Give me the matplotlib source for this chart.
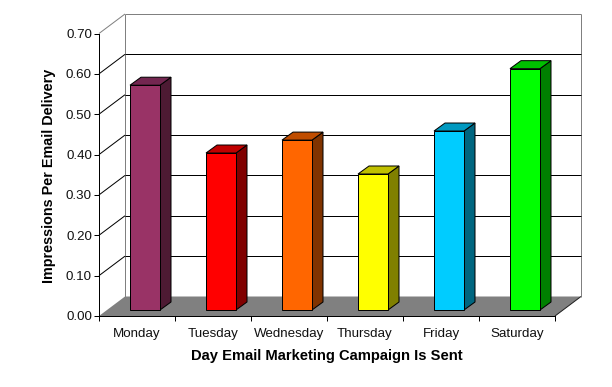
import matplotlib
matplotlib.use("Agg")
import matplotlib.pyplot as plt
from matplotlib.transforms import Affine2D, IdentityTransform
from matplotlib.patches import Polygon

days = ["Monday", "Tuesday", "Wednesday", "Thursday", "Friday", "Saturday"]
impressions = [0.557, 0.389, 0.421, 0.337, 0.4435, 0.598]
colors = ["#993366", "#FF0000", "#FF6600", "#FFFF00", "#00CCFF", "#00FF00"]
side_colors = ["#4D1A33", "#800000", "#803300", "#808000", "#006680", "#008000"]
top_colors = ["#732650", "#C00000", "#C04D00", "#C0C000", "#0099C0", "#00C000"]
y_ticks = [0.0, 0.1, 0.2, 0.3, 0.4, 0.5, 0.6, 0.7]

W, H = 612, 387
L, R, T, B = 99.0, 555.0, 33.5, 316.0
WALL_DX, WALL_DY = 26, 19.5
BAR_DX, BAR_DY = 8, 6
DEPTH_DX, DEPTH_DY = 11, 8
LW = 0.72

plt.rcParams["font.family"] = ["Liberation Sans", "DejaVu Sans"]
fig = plt.figure(figsize=(W / 100, H / 100), dpi=100, facecolor="white")
ax = fig.add_axes([L / W, (H - B) / H, (R - L) / W, (B - T) / H])
ax.set_xlim(-0.5, 5.5)
ax.set_ylim(0, 0.7)
ax.patch.set_visible(False)
for s in ("top", "right"):
    ax.spines[s].set_visible(False)
for s in ("left", "bottom"):
    ax.spines[s].set_linewidth(LW)
    ax.spines[s].set_zorder(20)

px = IdentityTransform()
wall = ax.transData + Affine2D().translate(WALL_DX, WALL_DY)
front = ax.transData + Affine2D().translate(BAR_DX, BAR_DY)
back = ax.transData + Affine2D().translate(BAR_DX + DEPTH_DX, BAR_DY + DEPTH_DY)


def poly(points, fc, ec="black", z=5, lw=LW):
    ax.add_patch(Polygon(points, closed=True, transform=px, fc=fc, ec=ec, lw=lw,
                         zorder=z, clip_on=False, joinstyle="miter"))


def seg(a, b, color="black", z=2):
    ax.plot([a[0], b[0]], [a[1], b[1]], transform=px, color=color, lw=LW,
            clip_on=False, zorder=z, solid_capstyle="butt")


x0, x1 = ax.get_xlim()
# floor
poly([ax.transData.transform((x0, 0)), ax.transData.transform((x1, 0)),
      wall.transform((x1, 0)), wall.transform((x0, 0))], "#808080", ec="none", z=3)
seg(ax.transData.transform((x1, 0)), wall.transform((x1, 0)), "#202020", 4)
# walls and gridlines
seg(wall.transform((x0, 0)), wall.transform((x0, 0.7)), "#808080")
seg(wall.transform((x1, 0)), wall.transform((x1, 0.7)), "#808080")
for v in y_ticks[1:]:
    c = "#808080" if v == y_ticks[-1] else "black"
    seg(wall.transform((x0, v)), wall.transform((x1, v)), c)
    seg(ax.transData.transform((x0, v)), wall.transform((x0, v)), c)

# bars
width = 30 / 76
for i, v in enumerate(impressions):
    l, r = i - width / 2, i + width / 2
    ax.bar(i, v, width=width, color=colors[i], edgecolor="black", linewidth=LW,
           transform=front, zorder=7, clip_on=False)
    poly([front.transform((r, 0)), back.transform((r, 0)),
          back.transform((r, v)), front.transform((r, v))], side_colors[i], z=6)
    poly([front.transform((l, v)), front.transform((r, v)),
          back.transform((r, v)), back.transform((l, v))], top_colors[i], z=6)

ax.set_yticks(y_ticks)
ax.set_yticklabels([f"{v:.2f}" for v in y_ticks], fontsize=9.6, color="#111111")
ax.set_xticks([i - 0.5 for i in range(7)])
ax.set_xticklabels([])
ax.set_xticks(range(6), minor=True)
ax.set_xticklabels(days, minor=True, fontsize=9.6, color="#111111")
ax.tick_params(axis="x", which="major", length=3.6, width=LW)
ax.tick_params(axis="x", which="minor", length=0, pad=8.5)
ax.tick_params(axis="y", length=3.6, width=LW, pad=1.5)

fig.text(326.5 / W, 1 - 356 / H, "Day Email Marketing Campaign Is Sent", ha="center",
         va="center", fontsize=10.6, fontweight="bold", color="black")
fig.text(49 / W, 1 - 176 / H, "Impressions Per Email Delivery", rotation=90, ha="center",
         va="center", fontsize=10.4, fontweight="bold", color="black")

fig.savefig("out.png", dpi=100)
